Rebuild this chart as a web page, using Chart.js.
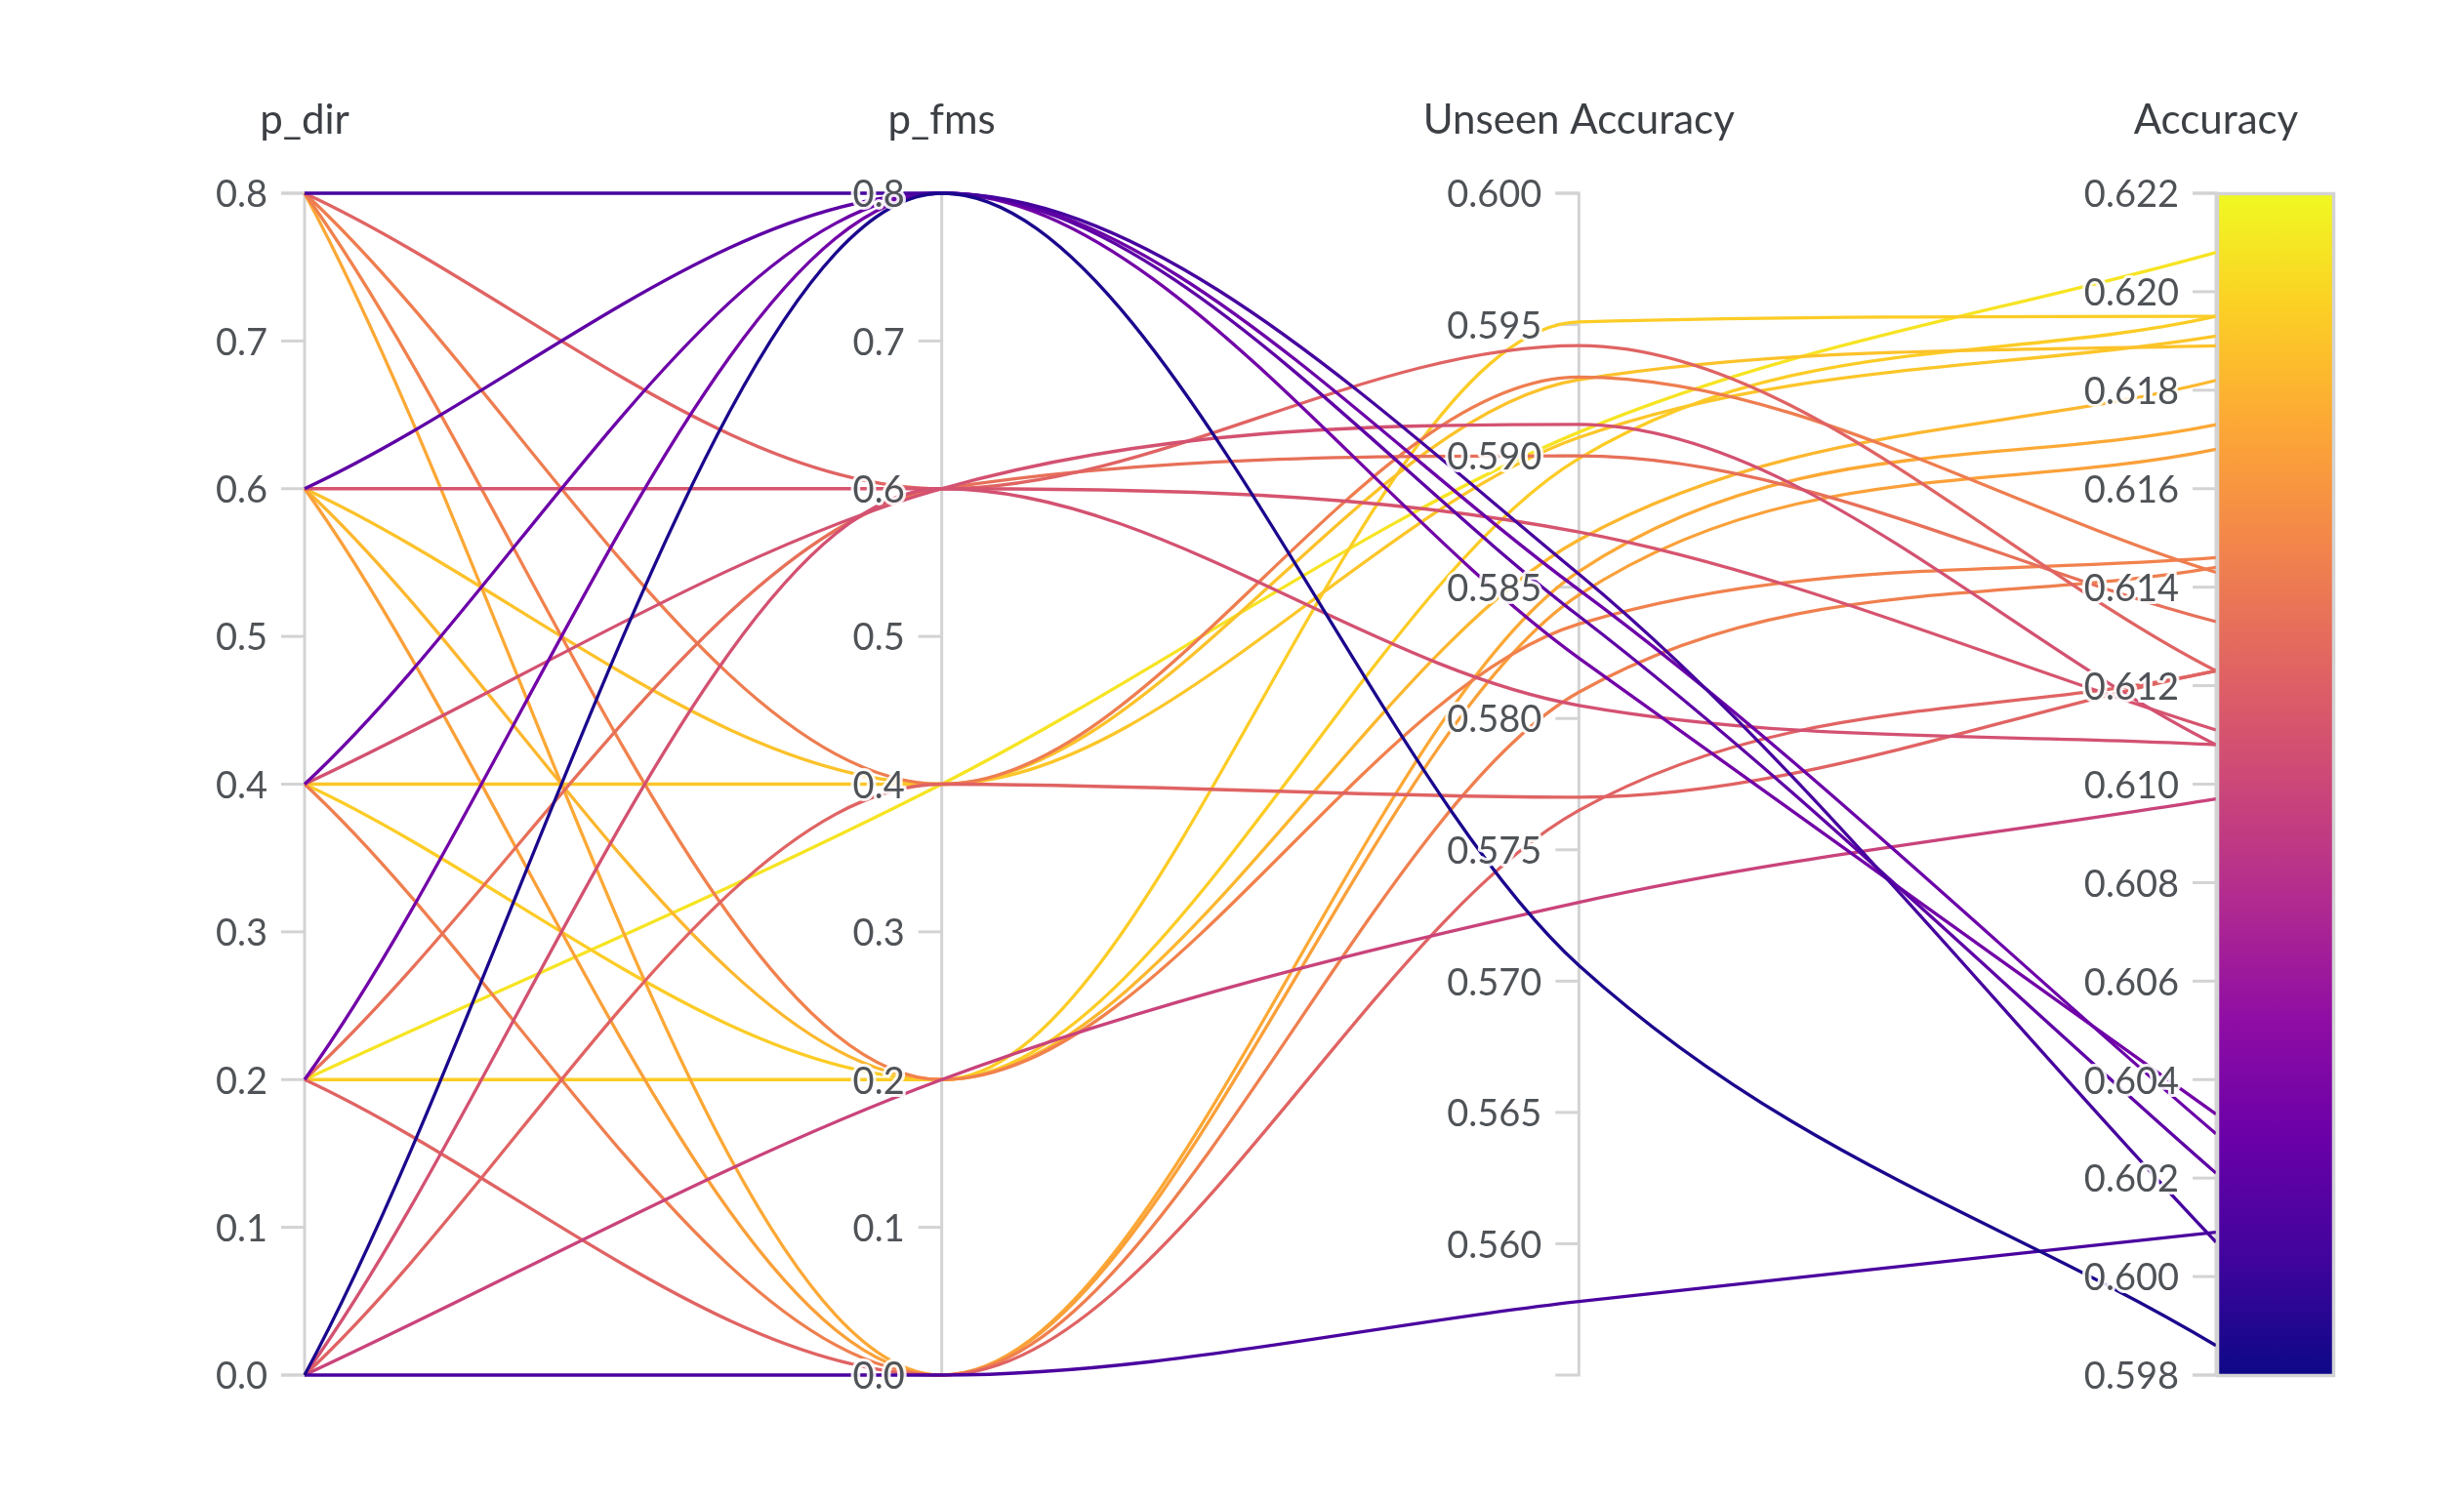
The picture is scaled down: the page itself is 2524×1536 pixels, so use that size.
<!DOCTYPE html>
<html>
<head>
<meta charset="utf-8">
<title>Parallel coordinates</title>
<script src="https://cdn.jsdelivr.net/npm/chart.js@4.4.1/dist/chart.umd.min.js"></script>
<style>
  html, body { margin: 0; padding: 0; background: #ffffff; }
  #wrap { width: 2524px; height: 1536px; position: relative; }
</style>
</head>
<body>
<div id="wrap"><canvas id="parallelChart"></canvas></div>
<script>
// runs, grouped by p_fms (0.8, 0.6, 0.4, 0.2, 0.0)
const pDir = [0.8, 0.6, 0.4, 0.2, 0.0,
              0.8, 0.6, 0.4, 0.2, 0.0,
              0.8, 0.6, 0.4, 0.2, 0.0,
              0.8, 0.6, 0.4, 0.2, 0.0,
              0.8, 0.6, 0.4, 0.2, 0.0];
const pFms = [0.8, 0.8, 0.8, 0.8, 0.8,
              0.6, 0.6, 0.6, 0.6, 0.6,
              0.4, 0.4, 0.4, 0.4, 0.4,
              0.2, 0.2, 0.2, 0.2, 0.2,
              0.0, 0.0, 0.0, 0.0, 0.0];
const unseenAcc = [0.5855, 0.5839, 0.5849, 0.5823, 0.5706,
                   0.5942, 0.5871, 0.5912, 0.5900, 0.5805,
                   0.5930, 0.5929, 0.5907, 0.5909, 0.5770,
                   0.5836, 0.5868, 0.5899, 0.5951, 0.5730,
                   0.5856, 0.5847, 0.5810, 0.5765, 0.5578];
const accuracy = [0.6007, 0.6021, 0.6029, 0.6033, 0.5986,
                  0.6123, 0.6111, 0.6108, 0.6133, 0.6108,
                  0.6143, 0.6189, 0.6191, 0.6208, 0.6123,
                  0.6146, 0.6182, 0.6195, 0.6195, 0.6097,
                  0.6173, 0.6168, 0.6144, 0.6123, 0.6009];

// axes
const axisTitles = ['p_dir', 'p_fms', 'Unseen Accuracy', 'Accuracy'];
const axisMin = [0, 0, 0.555, 0.598];
const axisMax = [0.8, 0.8, 0.600, 0.622];
const pDirTicks = ['0.0', '0.1', '0.2', '0.3', '0.4', '0.5', '0.6', '0.7', '0.8'];
const pFmsTicks = ['0.0', '0.1', '0.2', '0.3', '0.4', '0.5', '0.6', '0.7', '0.8'];
const unseenTicks = ['0.560', '0.565', '0.570', '0.575', '0.580', '0.585', '0.590', '0.595', '0.600'];
const accTicks = ['0.598', '0.600', '0.602', '0.604', '0.606', '0.608', '0.610', '0.612',
                  '0.614', '0.616', '0.618', '0.620', '0.622'];
const axisTicks = [pDirTicks, pFmsTicks, unseenTicks, accTicks];
const axisIds = ['pdir', 'pfms', 'unseen', 'acc'];

// plasma colour map
const plasma = ['#0d0887', '#41049d', '#6a00a8', '#8f0da4', '#b12a90', '#cc4778',
                '#e16462', '#f2844b', '#fca636', '#fcce25', '#f0f921'];

function hexToRgb(h) {
  return [parseInt(h.substr(1, 2), 16), parseInt(h.substr(3, 2), 16), parseInt(h.substr(5, 2), 16)];
}

function plasmaColor(t) {
  t = Math.max(0, Math.min(1, t));
  const p = t * (plasma.length - 1);
  const i = Math.min(Math.floor(p), plasma.length - 2);
  const f = p - i;
  const a = hexToRgb(plasma[i]), b = hexToRgb(plasma[i + 1]);
  const c = a.map((v, k) => Math.round(v + (b[k] - v) * f));
  return 'rgb(' + c.join(',') + ')';
}

function norm(v, k) {
  return (v - axisMin[k]) / (axisMax[k] - axisMin[k]);
}

// lowest accuracy first so it is drawn on top
const order = accuracy.map((a, i) => i).sort((a, b) => accuracy[a] - accuracy[b]);

const datasets = order.map(i => ({
  label: 'run ' + (i + 1),
  data: [
    {x: 0, y: norm(pDir[i], 0)},
    {x: 1, y: norm(pFms[i], 1)},
    {x: 2, y: norm(unseenAcc[i], 2)},
    {x: 3, y: norm(accuracy[i], 3)},
  ],
  borderColor: plasmaColor(norm(accuracy[i], 3)),
  borderWidth: 3.3,
  pointRadius: 0,
  fill: false,
  cubicInterpolationMode: 'monotone',
  clip: false,
}));

const FONT = 'Lato, "Noto Sans", sans-serif';
const TICK_LEN = 24;

// axes, ticks, labels and colour bar
const parallelAxes = {
  id: 'parallelAxes',
  beforeDatasetsDraw(chart) {
    const ctx = chart.ctx;
    ctx.save();
    ctx.strokeStyle = '#d3d3d3';
    ctx.lineWidth = 3;
    axisIds.forEach((id, k) => {
      const s = chart.scales[id];
      const x = chart.scales.x.getPixelForValue(k);
      const top = s.getPixelForValue(axisMax[k]);
      const bottom = s.getPixelForValue(axisMin[k]);
      ctx.beginPath();
      ctx.moveTo(x - TICK_LEN, top);
      ctx.lineTo(x, top);
      ctx.lineTo(x, bottom);
      ctx.lineTo(x - TICK_LEN, bottom);
      ctx.stroke();
      axisTicks[k].forEach(t => {
        const y = s.getPixelForValue(parseFloat(t));
        ctx.beginPath();
        ctx.moveTo(x - TICK_LEN, y);
        ctx.lineTo(x, y);
        ctx.stroke();
      });
    });
    ctx.restore();
  },
  afterDatasetsDraw(chart) {
    const ctx = chart.ctx;
    ctx.save();

    // colour bar on the Accuracy axis
    const s = chart.scales.acc;
    const bx = chart.scales.x.getPixelForValue(3);
    const bTop = s.getPixelForValue(axisMax[3]);
    const bBot = s.getPixelForValue(axisMin[3]);
    const grad = ctx.createLinearGradient(0, bBot, 0, bTop);
    plasma.forEach((c, i) => grad.addColorStop(i / (plasma.length - 1), c));
    ctx.fillStyle = grad;
    ctx.fillRect(bx, bTop, 121, bBot - bTop);
    ctx.strokeStyle = '#d3d3d3';
    ctx.lineWidth = 3.5;
    ctx.strokeRect(bx + 1.5, bTop + 0.5, 119, bBot - bTop);

    // tick labels with a white halo
    ctx.font = '38px ' + FONT;
    ctx.textAlign = 'right';
    ctx.textBaseline = 'middle';
    ctx.lineJoin = 'round';
    axisIds.forEach((id, k) => {
      const sc = chart.scales[id];
      const x = chart.scales.x.getPixelForValue(k) - TICK_LEN - 14;
      axisTicks[k].forEach(t => {
        const y = sc.getPixelForValue(parseFloat(t)) + 2;
        ctx.strokeStyle = 'rgba(255,255,255,0.9)';
        ctx.lineWidth = 6;
        ctx.strokeText(t, x, y);
        ctx.fillStyle = '#4f5358';
        ctx.fillText(t, x, y);
      });
    });

    // axis titles
    ctx.font = '42px ' + FONT;
    ctx.textAlign = 'center';
    ctx.textBaseline = 'alphabetic';
    ctx.fillStyle = '#3c3f44';
    axisTitles.forEach((t, k) => {
      ctx.fillText(t, chart.scales.x.getPixelForValue(k), 137);
    });
    ctx.restore();
  }
};

const scales = {
  x: {type: 'linear', min: 0, max: 3, display: false},
  y: {type: 'linear', min: 0, max: 1, display: false},
};
axisIds.forEach((id, k) => {
  scales[id] = {type: 'linear', axis: 'y', position: 'left', min: axisMin[k], max: axisMax[k], display: false};
});

new Chart(document.getElementById('parallelChart'), {
  type: 'line',
  data: {datasets: datasets},
  options: {
    responsive: true,
    maintainAspectRatio: false,
    devicePixelRatio: 1,
    animation: false,
    events: [],
    layout: {padding: {left: 312, right: 254, top: 198, bottom: 127}},
    plugins: {legend: {display: false}, tooltip: {enabled: false}},
    scales: scales,
  },
  plugins: [parallelAxes],
});
</script>
</body>
</html>
